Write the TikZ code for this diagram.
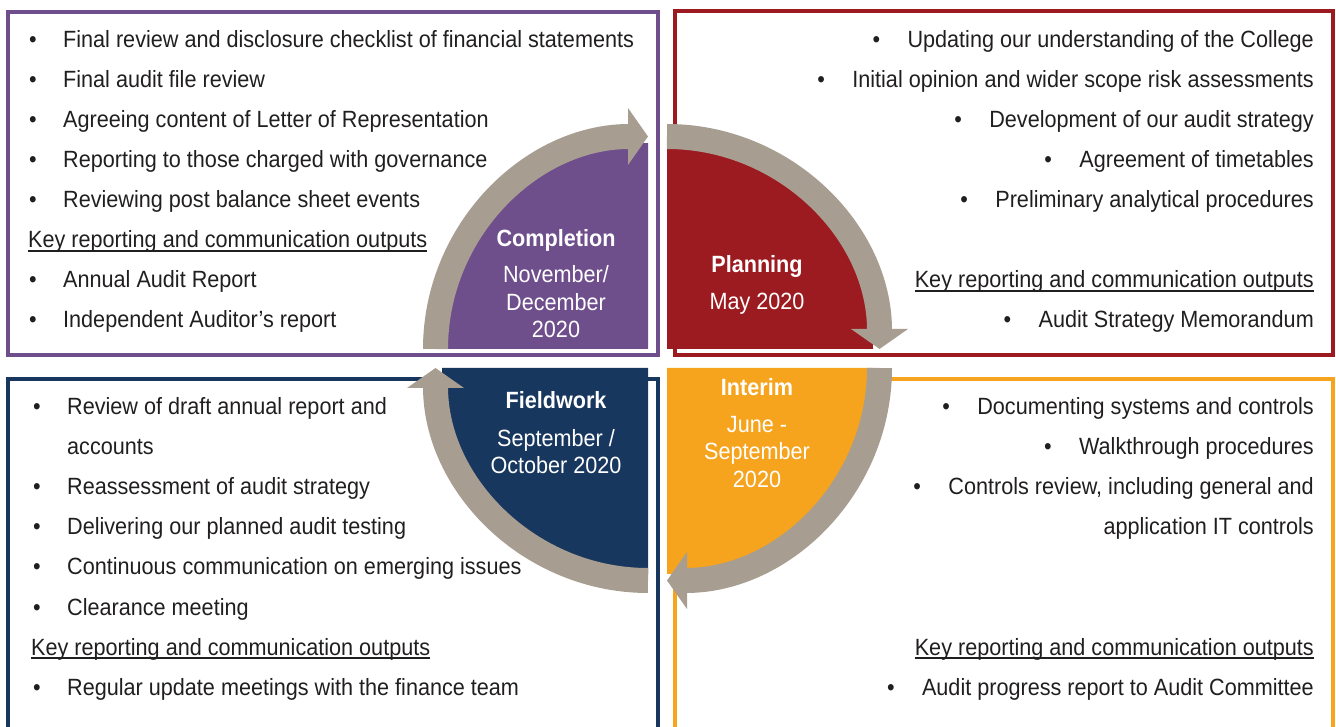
\documentclass[tikz,border=0pt]{standalone}
\usepackage{fontspec}
\setmainfont{Liberation Sans}[FakeStretch=0.92]
\usetikzlibrary{arrows,arrows.meta}
\usetikzlibrary{calc}
\definecolor{violett}{RGB}{111,78,140}
\definecolor{weinrot}{RGB}{155,27,32}
\definecolor{marine}{RGB}{24,55,95}
\definecolor{bernstein}{RGB}{246,164,30}
\definecolor{kreis}{RGB}{168,157,145}
\definecolor{schrift}{RGB}{33,30,31}

\begin{document}
\begin{tikzpicture}[x=1pt, y=1pt,
    box/.style={line width=4pt},
    ring/.style={kreis, line width=25pt, -{Triangle[width=56pt,length=20pt]}},
    item/.style={inner sep=0pt, text=schrift, font=\fontsize{23.5}{27}\selectfont},
    unterstrich/.style={schrift, line width=1.3pt},
    title/.style={inner sep=0pt, anchor=base, text=white, font=\bfseries\fontsize{23.5}{27}\selectfont},
    date/.style={inner sep=0pt, anchor=base, text=white, font=\fontsize{23.5}{27}\selectfont}]

    \useasboundingbox (0,0) rectangle (1336,726);

    % Kaesten
    \draw[box, violett] (8,371) rectangle (658,714);
    \draw[box, weinrot] (675,371) rectangle (1333,715);
    \draw[box, marine] (8,-10) -- (8,347) -- (658,347) -- (658,-10);
    \draw[box, bernstein] (675,-10) -- (675,347) -- (1333,347) -- (1333,-10);

    % Viertelkreise
    \coordinate (cp) at (648,377);
    \coordinate (pl) at (667,377);
    \coordinate (fw) at (648,358);
    \coordinate (im) at (667,358);

    \fill[violett] (cp) -- ++(-206,0) arc[start angle=180, end angle=90, radius=206pt] -- cycle;
    \fill[weinrot] (pl) -- ++(0,206) arc[start angle=90, end angle=0, radius=206pt] -- cycle;
    \fill[marine] (fw) -- ++(0,-206) arc[start angle=270, end angle=180, radius=206pt] -- cycle;
    \fill[bernstein] (im) -- ++(206,0) arc[start angle=0, end angle=-90, radius=206pt] -- cycle;

    % Pfeile
    \draw[ring] ($(cp)+(-212.5,0)$) arc[start angle=180, end angle=90, radius=212.5pt];
    \draw[ring] ($(pl)+(0,212.5)$) arc[start angle=90, end angle=0, radius=212.5pt];
    \draw[ring] ($(im)+(212.5,0)$) arc[start angle=0, end angle=-90, radius=212.5pt];
    \draw[ring] ($(fw)+(0,-212.5)$) arc[start angle=270, end angle=180, radius=212.5pt];

    % Completion
    \node[item, anchor=base west] (c1) at (29,678) {\makebox[34pt][l]{•}Final review and disclosure checklist of financial statements};
    \node[item, anchor=base west] (c2) at (29,638) {\makebox[34pt][l]{•}Final audit file review};
    \node[item, anchor=base west] (c3) at (29,598) {\makebox[34pt][l]{•}Agreeing content of Letter of Representation};
    \node[item, anchor=base west] (c4) at (29,558) {\makebox[34pt][l]{•}Reporting to those charged with governance};
    \node[item, anchor=base west] (c5) at (29,518) {\makebox[34pt][l]{•}Reviewing post balance sheet events};
    \node[item, anchor=base west] (ck) at (28,478) {Key reporting and communication outputs};
    \draw[unterstrich] ([yshift=-3pt]ck.base west) -- ([yshift=-3pt]ck.base east);
    \node[item, anchor=base west] (c6) at (29,438) {\makebox[34pt][l]{•}Annual Audit Report};
    \node[item, anchor=base west] (c7) at (29,398) {\makebox[34pt][l]{•}Independent Auditor’s report};

    % Planning
    \node[item, anchor=base east] (p1) at (1314,678) {\makebox[35pt][l]{•}Updating our understanding of the College};
    \node[item, anchor=base east] (p2) at (1314,638) {\makebox[35pt][l]{•}Initial opinion and wider scope risk assessments};
    \node[item, anchor=base east] (p3) at (1314,598) {\makebox[35pt][l]{•}Development of our audit strategy};
    \node[item, anchor=base east] (p4) at (1314,558) {\makebox[35pt][l]{•}Agreement of timetables};
    \node[item, anchor=base east] (p5) at (1314,518) {\makebox[35pt][l]{•}Preliminary analytical procedures};
    \node[item, anchor=base east] (pk) at (1314,438) {Key reporting and communication outputs};
    \draw[unterstrich] ([yshift=-3pt]pk.base west) -- ([yshift=-3pt]pk.base east);
    \node[item, anchor=base east] (p6) at (1314,398) {\makebox[35pt][l]{•}Audit Strategy Memorandum};

    % Fieldwork
    \node[item, anchor=base west] (f1) at (33,311) {\makebox[34pt][l]{•}Review of draft annual report and};
    \node[item, anchor=base west] (f2) at (67,271) {accounts};
    \node[item, anchor=base west] (f3) at (33,231) {\makebox[34pt][l]{•}Reassessment of audit strategy};
    \node[item, anchor=base west] (f4) at (33,191) {\makebox[34pt][l]{•}Delivering our planned audit testing};
    \node[item, anchor=base west] (f5) at (33,151) {\makebox[34pt][l]{•}Continuous communication on emerging issues};
    \node[item, anchor=base west] (f6) at (33,111) {\makebox[34pt][l]{•}Clearance meeting};
    \node[item, anchor=base west] (fk) at (31,71) {Key reporting and communication outputs};
    \draw[unterstrich] ([yshift=-3pt]fk.base west) -- ([yshift=-3pt]fk.base east);
    \node[item, anchor=base west] (f7) at (33,31) {\makebox[34pt][l]{•}Regular update meetings with the finance team};

    % Interim
    \node[item, anchor=base east] (i1) at (1314,311) {\makebox[35pt][l]{•}Documenting systems and controls};
    \node[item, anchor=base east] (i2) at (1314,271) {\makebox[35pt][l]{•}Walkthrough procedures};
    \node[item, anchor=base east] (i3) at (1314,231) {\makebox[35pt][l]{•}Controls review, including general and};
    \node[item, anchor=base east] (i4) at (1314,191) {application IT controls};
    \node[item, anchor=base east] (ik) at (1314,71) {Key reporting and communication outputs};
    \draw[unterstrich] ([yshift=-3pt]ik.base west) -- ([yshift=-3pt]ik.base east);
    \node[item, anchor=base east] (i5) at (1314,31) {\makebox[35pt][l]{•}Audit progress report to Audit Committee};

    % Beschriftung im Kreis
    \node[title] (tc) at (556,479) {Completion};
    \node[date] (dc1) at (556,443) {November/};
    \node[date] (dc2) at (556,415) {December};
    \node[date] (dc3) at (556,388) {2020};

    \node[title] (tp) at (757,453) {Planning};
    \node[date] (dp1) at (757,416) {May 2020};

    \node[title] (tf) at (556,317) {Fieldwork};
    \node[date] (df1) at (556,279) {September /};
    \node[date] (df2) at (556,252) {October 2020};

    \node[title] (ti) at (757,330) {Interim};
    \node[date] (di1) at (757,293) {June -};
    \node[date] (di2) at (757,266) {September};
    \node[date] (di3) at (757,238) {2020};

\end{tikzpicture}
\end{document}
